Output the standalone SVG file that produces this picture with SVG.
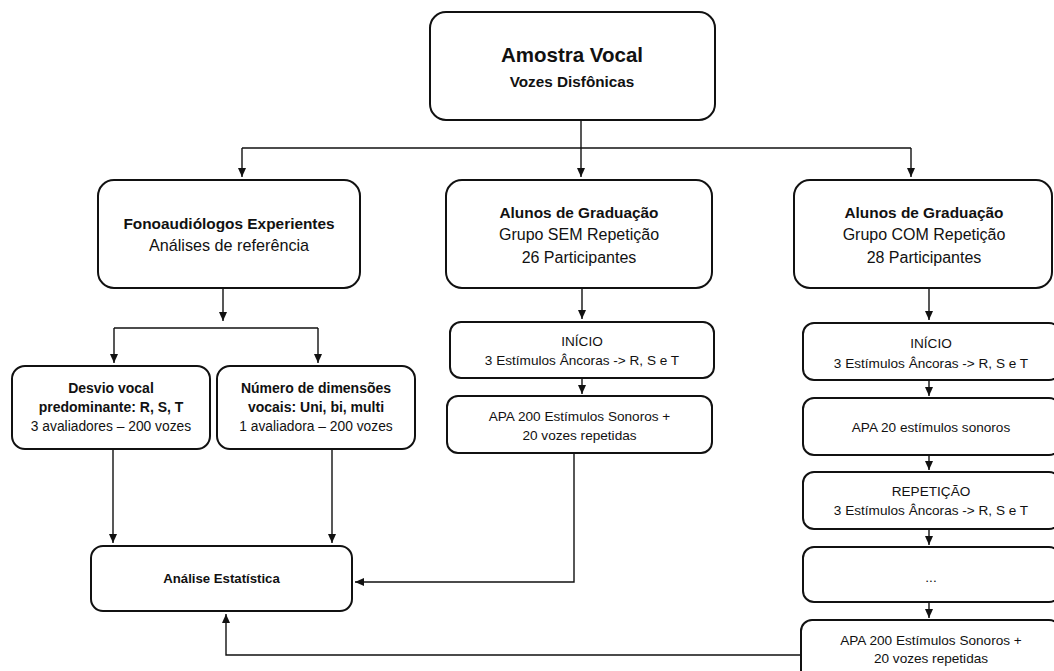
<svg xmlns="http://www.w3.org/2000/svg" width="1054" height="671" viewBox="0 0 1054 671">
<defs>
<marker id="ah" markerUnits="userSpaceOnUse" markerWidth="10" markerHeight="10" refX="9" refY="5" orient="auto">
<path d="M0,1 L9,5 L0,9 Z" fill="#111"/>
</marker>
<style>
.box{fill:#fff;stroke:#111;stroke-width:2}
.t{font-family:"Liberation Sans",Arial,sans-serif;fill:#111;text-anchor:middle}
.b{font-weight:bold}
.c{fill:none;stroke:#111;stroke-width:1.4}
</style>
</defs>
<rect width="1054" height="671" fill="#fff"/>
<g id="connectors">
<path class="c" d="M581,120 V177" marker-end="url(#ah)"/>
<path class="c" d="M242,148 H911"/>
<path class="c" d="M242,148 V177" marker-end="url(#ah)"/>
<path class="c" d="M911,148 V177" marker-end="url(#ah)"/>
<path class="c" d="M223,288 V321" marker-end="url(#ah)"/>
<path class="c" d="M114,328 H318"/>
<path class="c" d="M114,328 V363" marker-end="url(#ah)"/>
<path class="c" d="M318,328 V363" marker-end="url(#ah)"/>
<path class="c" d="M113,449 V543" marker-end="url(#ah)"/>
<path class="c" d="M332,449 V543" marker-end="url(#ah)"/>
<path class="c" d="M582,288 V319" marker-end="url(#ah)"/>
<path class="c" d="M582,378 V394" marker-end="url(#ah)"/>
<path class="c" d="M574,453 V582 H355" marker-end="url(#ah)"/>
<path class="c" d="M929,288 V320" marker-end="url(#ah)"/>
<path class="c" d="M929,380 V396" marker-end="url(#ah)"/>
<path class="c" d="M929,455 V470" marker-end="url(#ah)"/>
<path class="c" d="M929,529 V545" marker-end="url(#ah)"/>
<path class="c" d="M929,602 V618" marker-end="url(#ah)"/>
<path class="c" d="M801,655 H226 V614" marker-end="url(#ah)"/>
</g>
<g id="amostra">
<rect class="box" x="430" y="12" width="285" height="108" rx="16"/>
<text class="t b" x="572" y="62" font-size="20.5">Amostra Vocal</text>
<text class="t b" x="572" y="86.5" font-size="15.3">Vozes Disfônicas</text>
</g>
<g id="fono">
<rect class="box" x="98" y="180" width="262" height="108" rx="16"/>
<text class="t b" x="229" y="228.5" font-size="15.4">Fonoaudiólogos Experientes</text>
<text class="t" x="229" y="250.5" font-size="16.2">Análises de referência</text>
</g>
<g id="alunos-sem">
<rect class="box" x="446" y="180" width="266" height="108" rx="16"/>
<text class="t b" x="579" y="217.5" font-size="15.4">Alunos de Graduação</text>
<text class="t" x="579" y="239.5" font-size="16">Grupo SEM Repetição</text>
<text class="t" x="579" y="262.5" font-size="16">26 Participantes</text>
</g>
<g id="alunos-com">
<rect class="box" x="794" y="180" width="258" height="108" rx="16"/>
<text class="t b" x="924" y="217.5" font-size="15.4">Alunos de Graduação</text>
<text class="t" x="924" y="239.5" font-size="16">Grupo COM Repetição</text>
<text class="t" x="924" y="262.5" font-size="16">28 Participantes</text>
</g>
<g id="desvio">
<rect class="box" x="12" y="366" width="198" height="83" rx="13"/>
<text class="t b" x="111" y="393" font-size="14">Desvio vocal</text>
<text class="t b" x="111" y="412" font-size="14">predominante: R, S, T</text>
<text class="t" x="111" y="431" font-size="13.8">3 avaliadores – 200 vozes</text>
</g>
<g id="numero">
<rect class="box" x="217" y="366" width="198" height="83" rx="13"/>
<text class="t b" x="316" y="393" font-size="14">Número de dimensões</text>
<text class="t b" x="316" y="412" font-size="14">vocais: Uni, bi, multi</text>
<text class="t" x="316" y="431" font-size="13.8">1 avaliadora – 200 vozes</text>
</g>
<g id="analise">
<rect class="box" x="91" y="546" width="261" height="65" rx="12"/>
<text class="t b" x="221.5" y="583" font-size="13.2">Análise Estatística</text>
</g>
<g id="inicio-sem">
<rect class="box" x="450" y="322" width="264" height="56" rx="11"/>
<text class="t" x="582" y="346" font-size="13.6">INÍCIO</text>
<text class="t" x="582" y="365" font-size="13.6">3 Estímulos Âncoras -&gt; R, S e T</text>
</g>
<g id="apa200-sem">
<rect class="box" x="447" y="396" width="265" height="57" rx="11"/>
<text class="t" x="579.5" y="421" font-size="13.6">APA 200 Estímulos Sonoros +</text>
<text class="t" x="579.5" y="440" font-size="13.6">20 vozes repetidas</text>
</g>
<g id="inicio-com">
<rect class="box" x="803" y="323" width="257" height="57" rx="11"/>
<text class="t" x="931" y="348" font-size="13.6">INÍCIO</text>
<text class="t" x="931" y="368" font-size="13.6">3 Estímulos Âncoras -&gt; R, S e T</text>
</g>
<g id="apa20-com">
<rect class="box" x="803" y="398" width="257" height="57" rx="11"/>
<text class="t" x="931" y="432" font-size="13.6">APA 20 estímulos sonoros</text>
</g>
<g id="repeticao-com">
<rect class="box" x="803" y="472" width="257" height="57" rx="11"/>
<text class="t" x="931" y="496" font-size="13.6">REPETIÇÃO</text>
<text class="t" x="931" y="515" font-size="13.6">3 Estímulos Âncoras -&gt; R, S e T</text>
</g>
<g id="etc-com">
<rect class="box" x="803" y="547" width="257" height="55" rx="11"/>
<text class="t" x="931" y="582" font-size="13.6">...</text>
</g>
<g id="apa200-com">
<rect class="box" x="801" y="620" width="259" height="70" rx="11"/>
<text class="t" x="931" y="645" font-size="13.6">APA 200 Estímulos Sonoros +</text>
<text class="t" x="931" y="663" font-size="13.6">20 vozes repetidas</text>
</g>
</svg>
